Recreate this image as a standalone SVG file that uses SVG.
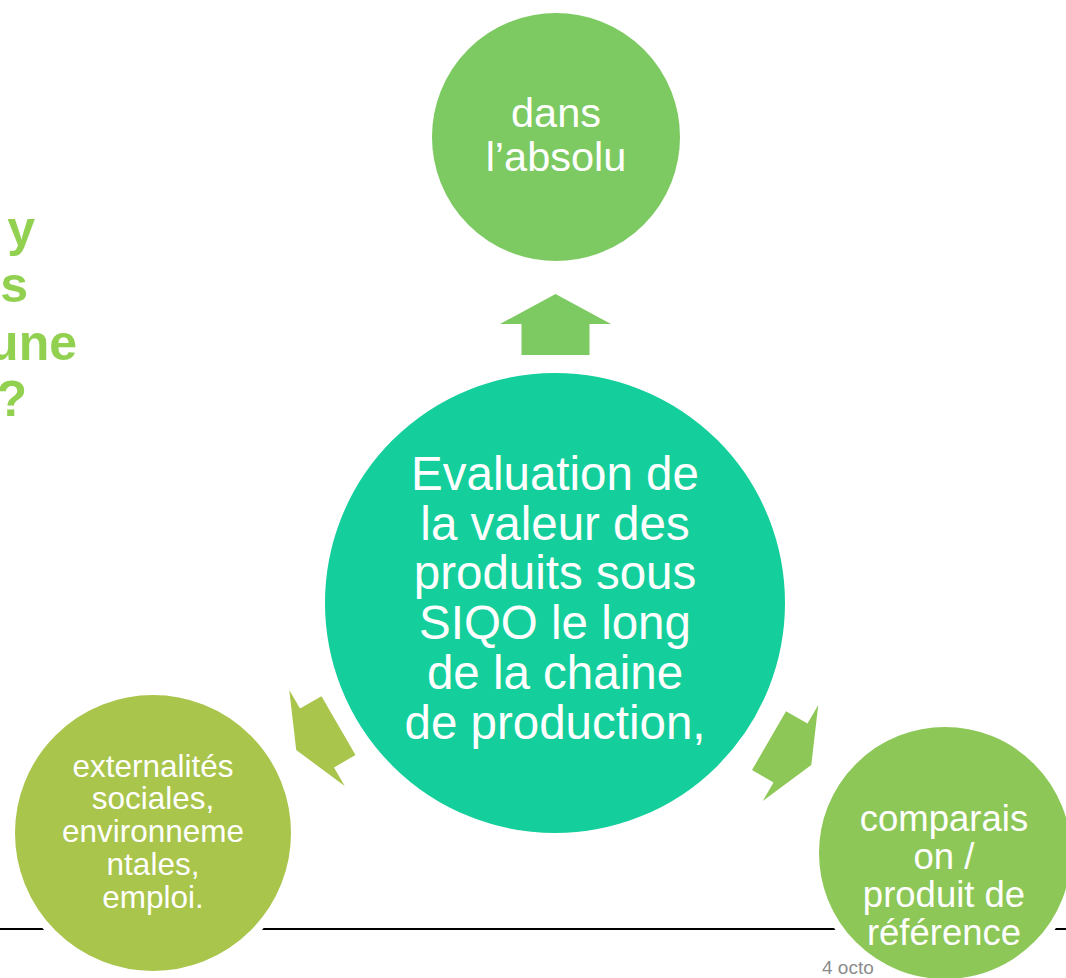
<svg xmlns="http://www.w3.org/2000/svg" xmlns:xlink="http://www.w3.org/1999/xlink" width="1066" height="978" viewBox="0 0 1066 978">
<style>
  .lbl { font-family: "Liberation Sans", Arial, sans-serif; fill: #ffffff; text-anchor: middle; }
  .c { font-size: 47.5px; }
  .t { font-size: 41.5px; }
  .l { font-size: 31.5px; }
  .r { font-size: 36.5px; }
  .title { font-family: "Liberation Sans", Arial, sans-serif; font-weight: bold; fill: #92D050; font-size: 50px; text-anchor: end; }
  .node { stroke: #ffffff; stroke-width: 8; }
</style>
<defs>
  <polygon id="arrow" points="0,-30 55.5,0 34,0 34,31 -34,31 -34,0 -55.5,0"/>
</defs>
<rect width="1066" height="978" fill="#ffffff"/>
<g id="title">
  <text class="title" x="35" y="246">y</text>
  <text class="title" x="28" y="302">s</text>
  <text class="title" x="77" y="360">une</text>
  <text class="title" x="27" y="416">?</text>
</g>
<line id="footer-line" x1="0" y1="929" x2="1066" y2="929" stroke="#000000" stroke-width="2"/>
<text id="footer-date" x="822" y="974" font-family="Liberation Sans, Arial, sans-serif" font-size="19" fill="#8C8C8C">4 octo</text>
<g id="connectors">
  <use xlink:href="#arrow" href="#arrow" fill="#7DCA62" transform="translate(555.5,324)"/>
  <use xlink:href="#arrow" href="#arrow" fill="#A9C54B" transform="translate(317,738) rotate(-120) scale(1,0.8)"/>
  <use xlink:href="#arrow" href="#arrow" fill="#8DC757" transform="translate(790.5,753) rotate(120) scale(1,0.8)"/>
</g>
<g id="node-center">
  <circle class="node" cx="555" cy="603" r="234" fill="#14CF9B"/>
  <text class="lbl c" x="555" y="490">Evaluation de</text>
  <text class="lbl c" x="555" y="540">la valeur des</text>
  <text class="lbl c" x="555" y="589">produits sous</text>
  <text class="lbl c" x="555" y="639">SIQO le long</text>
  <text class="lbl c" x="555" y="689">de la chaine</text>
  <text class="lbl c" x="555" y="739">de production,</text>
</g>
<g id="node-top">
  <circle class="node" cx="556" cy="137" r="128" fill="#7DCA62"/>
  <text class="lbl t" x="556" y="127">dans</text>
  <text class="lbl t" x="556" y="171">l’absolu</text>
</g>
<g id="node-left">
  <circle class="node" cx="153" cy="833" r="142" fill="#A9C54B"/>
  <text class="lbl l" x="153" y="777">externalités</text>
  <text class="lbl l" x="153" y="809">sociales,</text>
  <text class="lbl l" x="153" y="842">environneme</text>
  <text class="lbl l" x="153" y="875">ntales,</text>
  <text class="lbl l" x="153" y="908">emploi.</text>
</g>
<g id="node-right">
  <circle class="node" cx="945" cy="853" r="130" fill="#8DC757"/>
  <text class="lbl r" x="944" y="831">comparais</text>
  <text class="lbl r" x="944" y="869">on /</text>
  <text class="lbl r" x="944" y="907">produit de</text>
  <text class="lbl r" x="944" y="945">référence</text>
</g>
</svg>
